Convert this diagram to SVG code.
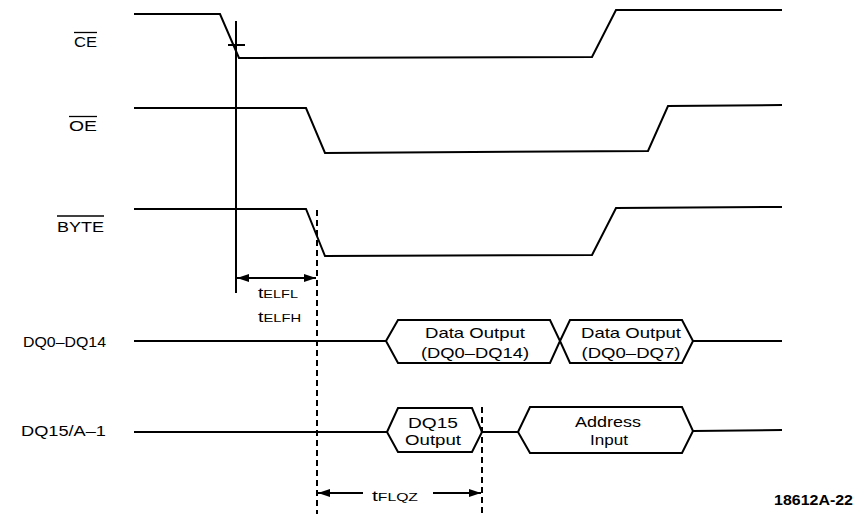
<svg xmlns="http://www.w3.org/2000/svg" width="859" height="514" viewBox="0 0 859 514">
<style>
.sig{fill:none;stroke:#000;stroke-width:2;stroke-linejoin:miter}
.hex{fill:#fff;stroke:#000;stroke-width:2}
.bar{stroke:#000;stroke-width:1.3}
.dash{stroke:#000;stroke-width:2;stroke-dasharray:6 4;fill:none}
.dim{stroke:#000;stroke-width:2;fill:none}
text{font-family:"Liberation Sans",Arial,sans-serif;fill:#000;font-size:14px}
.lbl{text-anchor:start}
.in{text-anchor:middle;font-size:15px}
.tm{font-size:14px}
.sub{font-size:10.5px}
.fig{font-weight:bold;font-size:15px}
</style>
<defs>
<marker id="ah" viewBox="0 0 12 8" refX="12" refY="4" markerWidth="12" markerHeight="8" markerUnits="userSpaceOnUse" orient="auto-start-reverse">
<path d="M0,0 L12,4 L0,8 Z" fill="#000"/>
</marker>
</defs>
<rect width="859" height="514" fill="#fff"/>

<g id="CE">
<text x="74" y="47" textLength="23" lengthAdjust="spacingAndGlyphs">CE</text>
<line class="bar" x1="74" y1="32.5" x2="97" y2="32.5"/>
<path class="sig" d="M134,14 L220,14 L239,58 L592,57 L616,10 L782,10"/>
</g>

<g id="OE">
<text x="69" y="131" textLength="28" lengthAdjust="spacingAndGlyphs">OE</text>
<line class="bar" x1="69" y1="116.5" x2="97" y2="116.5"/>
<path class="sig" d="M134,108 L306,108 L325,153 L648,151 L668,106 L782,105"/>
</g>

<g id="BYTE">
<text x="57" y="232" textLength="47" lengthAdjust="spacingAndGlyphs">BYTE</text>
<line class="bar" x1="57" y1="216" x2="104" y2="216"/>
<path class="sig" d="M134,209 L306,209 L325,256 L592,255 L616,208 L782,207"/>
</g>

<g id="DQ0-DQ14">
<text x="23" y="347" textLength="83" lengthAdjust="spacingAndGlyphs">DQ0–DQ14</text>
<path class="sig" d="M134,341 L386,341"/>
<path class="sig" d="M693,341 L782,341"/>
<g id="data-output-1">
<polygon class="hex" points="386,341 398,320 550,320 560,341 550,363 398,363"/>
<text class="in" x="475" y="338" textLength="100" lengthAdjust="spacingAndGlyphs">Data Output</text>
<text class="in" x="475" y="358" textLength="108" lengthAdjust="spacingAndGlyphs">(DQ0–DQ14)</text>
</g>
<g id="data-output-2">
<polygon class="hex" points="560,341 570,320 682,320 693,341 682,363 570,363"/>
<text class="in" x="631" y="338" textLength="100" lengthAdjust="spacingAndGlyphs">Data Output</text>
<text class="in" x="631" y="358" textLength="99" lengthAdjust="spacingAndGlyphs">(DQ0–DQ7)</text>
</g>
</g>

<g id="DQ15-A-1">
<text x="21" y="436" textLength="85" lengthAdjust="spacingAndGlyphs">DQ15/A–1</text>
<path class="sig" d="M134,432 L387,432"/>
<path class="sig" d="M482,432 L518,432"/>
<path class="sig" d="M693,431 L782,430"/>
<g id="dq15-output">
<polygon class="hex" points="387,432 398,408 472,408 482,432 472,452 398,452"/>
<text class="in" x="433" y="428" textLength="50" lengthAdjust="spacingAndGlyphs">DQ15</text>
<text class="in" x="433" y="445" textLength="56" lengthAdjust="spacingAndGlyphs">Output</text>
</g>
<g id="address-input">
<polygon class="hex" points="518,432 530,407 682,407 693,431 682,453 530,453"/>
<text class="in" x="608" y="427" textLength="66" lengthAdjust="spacingAndGlyphs">Address</text>
<text class="in" x="609" y="445" textLength="38" lengthAdjust="spacingAndGlyphs">Input</text>
</g>
</g>

<g id="connectors">
<line class="dim" x1="236" y1="21" x2="236" y2="293"/>
<line class="dim" x1="228" y1="45" x2="245" y2="45"/>
<line class="dash" x1="317" y1="210" x2="317" y2="514"/>
<line class="dash" x1="482" y1="407" x2="482" y2="514"/>
<line class="dim" x1="237" y1="278" x2="316" y2="278" marker-start="url(#ah)" marker-end="url(#ah)"/>
<line class="dim" x1="318" y1="493" x2="363" y2="493" marker-start="url(#ah)"/>
<line class="dim" x1="433" y1="493" x2="481" y2="493" marker-end="url(#ah)"/>
</g>

<g id="timing-labels">
<text x="258" y="298" textLength="40" lengthAdjust="spacingAndGlyphs"><tspan class="tm">t</tspan><tspan class="sub">ELFL</tspan></text>
<text x="258" y="322" textLength="43" lengthAdjust="spacingAndGlyphs"><tspan class="tm">t</tspan><tspan class="sub">ELFH</tspan></text>
<text x="372" y="501" textLength="46" lengthAdjust="spacingAndGlyphs"><tspan class="tm">t</tspan><tspan class="sub">FLQZ</tspan></text>
</g>

<text class="fig" x="774" y="505" textLength="79" lengthAdjust="spacingAndGlyphs">18612A-22</text>
</svg>
